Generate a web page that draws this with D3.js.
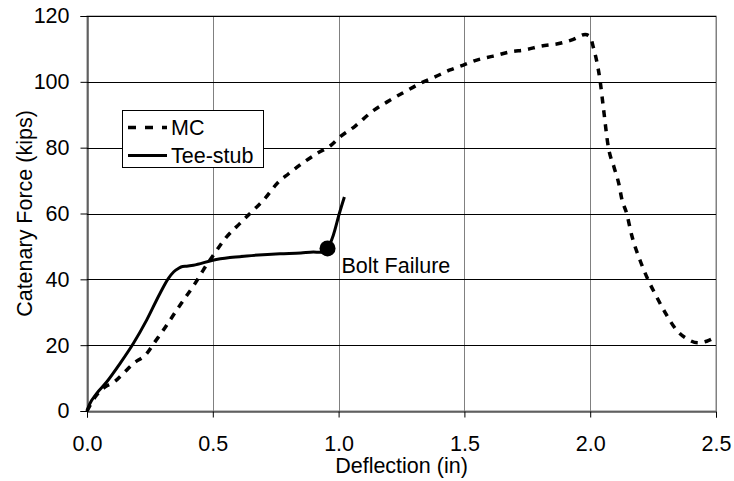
<!DOCTYPE html>
<html>
<head>
<meta charset="utf-8">
<script src="https://cdn.jsdelivr.net/npm/d3@7"></script>
<style>
  html, body { margin: 0; padding: 0; background: #fff; }
  svg text { font-family: "Liberation Sans", Arial, sans-serif; fill: #000; }
</style>
</head>
<body>
<svg id="chart" width="734" height="481"></svg>
<script>
// Deflection (in) and catenary force (kips) for the MC specimen
const mcDeflection = [0, 0.03, 0.072, 0.111, 0.144, 0.184, 0.237, 0.27, 0.303, 0.33, 0.356, 0.383, 0.429, 0.462, 0.502, 0.555, 0.608, 0.661, 0.701, 0.76, 0.8, 0.86, 0.92, 0.966, 1.006, 1.065, 1.132, 1.204, 1.264, 1.324, 1.383, 1.443, 1.496, 1.549, 1.615, 1.681, 1.747, 1.8, 1.88, 1.933, 1.98, 2.0, 2.012, 2.025, 2.039, 2.052, 2.072, 2.095, 2.115, 2.125, 2.145, 2.165, 2.198, 2.231, 2.264, 2.304, 2.344, 2.383, 2.43, 2.463, 2.5];
const mcForce      = [0, 4, 7.3, 9.0, 11.4, 14.4, 17.4, 21.0, 24.5, 27.6, 30.6, 33.6, 38.7, 42.8, 47.3, 52.9, 57.0, 61.0, 64.0, 69.5, 72, 75.5, 78.5, 80.5, 83.3, 86.5, 90.9, 94.4, 97.0, 99.5, 101.5, 103.6, 105.1, 106.6, 107.8, 109.1, 109.8, 110.8, 111.7, 112.9, 114.4, 113.7, 110.6, 106.6, 100.5, 92.4, 80.2, 74, 68.6, 64.6, 60.0, 53.4, 45.8, 39.7, 34.7, 29.1, 24.5, 22.0, 20.7, 21.2, 22.5];

// Tee-stub specimen
const teeDeflection = [0, 0.01, 0.038, 0.078, 0.131, 0.184, 0.237, 0.29, 0.323, 0.345, 0.363, 0.38, 0.396, 0.423, 0.5, 0.568, 0.635, 0.767, 0.85, 0.9, 0.926, 0.956, 0.979, 1.003, 1.023];
const teeForce      = [0, 2, 5.3, 8.8, 14.4, 20.5, 27.6, 35.7, 40.2, 42.3, 43.3, 43.9, 44.0, 44.3, 45.8, 46.6, 47.1, 47.8, 48.0, 48.3, 48.2, 49.4, 53.4, 60.0, 65.0];

// Bolt failure event on the tee-stub curve
const boltDeflection = 0.956;
const boltForce = 49.4;
const boltLabel = "Bolt Failure";

const xTicks = [0, 0.5, 1.0, 1.5, 2.0, 2.5];
const yTicks = [0, 20, 40, 60, 80, 100, 120];
const seriesNames = ["MC", "Tee-stub"];
const xTitle = "Deflection (in)";
const yTitle = "Catenary Force (kips)";

const svg = d3.select("#chart");
const plot = { left: 87, right: 716, top: 16, bottom: 411 };
const fontSize = "21.5px";

const x = d3.scaleLinear().domain([0, 2.5]).range([plot.left, plot.right]);
const y = d3.scaleLinear().domain([0, 120]).range([plot.bottom, plot.top]);

// Plot frame (top/right) and gridlines
svg.append("rect")
  .attr("x", plot.left).attr("y", plot.top)
  .attr("width", plot.right - plot.left).attr("height", plot.bottom - plot.top)
  .attr("fill", "none").attr("stroke", "#808080").attr("stroke-width", 1);

svg.append("g").selectAll("line").data(xTicks.slice(1)).join("line")
  .attr("x1", d => Math.round(x(d)) + 0.5).attr("x2", d => Math.round(x(d)) + 0.5)
  .attr("y1", plot.top).attr("y2", plot.bottom)
  .attr("stroke", "#808080").attr("stroke-width", 1);

svg.append("g").selectAll("line").data(yTicks.slice(1)).join("line")
  .attr("x1", plot.left).attr("x2", plot.right)
  .attr("y1", d => Math.round(y(d)) + 0.5).attr("y2", d => Math.round(y(d)) + 0.5)
  .attr("stroke", "#000").attr("stroke-width", 1);

// Axes
const xAxis = svg.append("g")
  .attr("transform", `translate(0,${Math.round(y(0)) + 0.5})`)
  .call(d3.axisBottom(x).tickValues(xTicks).tickFormat(d3.format(".1f")).tickSize(6).tickPadding(18));
const yAxis = svg.append("g")
  .attr("transform", `translate(${Math.round(x(0)) + 0.5},0)`)
  .call(d3.axisLeft(y).tickValues(yTicks).tickSize(7).tickPadding(11));

[xAxis, yAxis].forEach(g => {
  g.select(".domain").attr("stroke", "#000").attr("stroke-width", 1);
  g.selectAll(".tick line").attr("stroke", "#000");
  g.selectAll(".tick text")
    .style("font-family", '"Liberation Sans", Arial, sans-serif')
    .style("font-size", fontSize).attr("fill", "#000");
});

// Axis titles
svg.append("text")
  .attr("x", (plot.left + plot.right) / 2).attr("y", 473)
  .attr("text-anchor", "middle").style("font-size", fontSize)
  .text(xTitle);
svg.append("text")
  .attr("transform", `translate(32,${(plot.top + plot.bottom) / 2}) rotate(-90)`)
  .attr("text-anchor", "middle").style("font-size", fontSize)
  .text(yTitle);

// Series lines
const mcData = mcDeflection.map((d, i) => [d, mcForce[i]]);
const teeData = teeDeflection.map((d, i) => [d, teeForce[i]]);
const line = d3.line().x(d => x(d[0])).y(d => y(d[1])).curve(d3.curveMonotoneX);

svg.append("path").datum(mcData)
  .attr("d", line).attr("fill", "none")
  .attr("stroke", "#000").attr("stroke-width", 3.5)
  .attr("stroke-dasharray", "7,7");

svg.append("path").datum(teeData)
  .attr("d", line).attr("fill", "none")
  .attr("stroke", "#000").attr("stroke-width", 3)
  .attr("stroke-linejoin", "round");

// Bolt failure marker and label
svg.append("circle")
  .attr("cx", x(boltDeflection)).attr("cy", y(boltForce))
  .attr("r", 8).attr("fill", "#000");
svg.append("text")
  .attr("x", x(boltDeflection) + 14).attr("y", y(boltForce) + 24.5)
  .style("font-size", fontSize)
  .text(boltLabel);

// Legend
const legend = svg.append("g");
legend.append("rect")
  .attr("x", 122.5).attr("y", 110.5).attr("width", 141).attr("height", 57)
  .attr("fill", "#fff").attr("stroke", "#000").attr("stroke-width", 1);
const legendRows = [
  { name: seriesNames[0], dash: "8,9", width: 3.5, y: 127.5 },
  { name: seriesNames[1], dash: null, width: 3, y: 155.5 }
];
legendRows.forEach(r => {
  legend.append("line")
    .attr("x1", 128).attr("x2", 167).attr("y1", r.y).attr("y2", r.y)
    .attr("stroke", "#000").attr("stroke-width", r.width)
    .attr("stroke-dasharray", r.dash);
  legend.append("text")
    .attr("x", 171).attr("y", r.y + 7.5)
    .style("font-size", fontSize)
    .text(r.name);
});
</script>
</body>
</html>
